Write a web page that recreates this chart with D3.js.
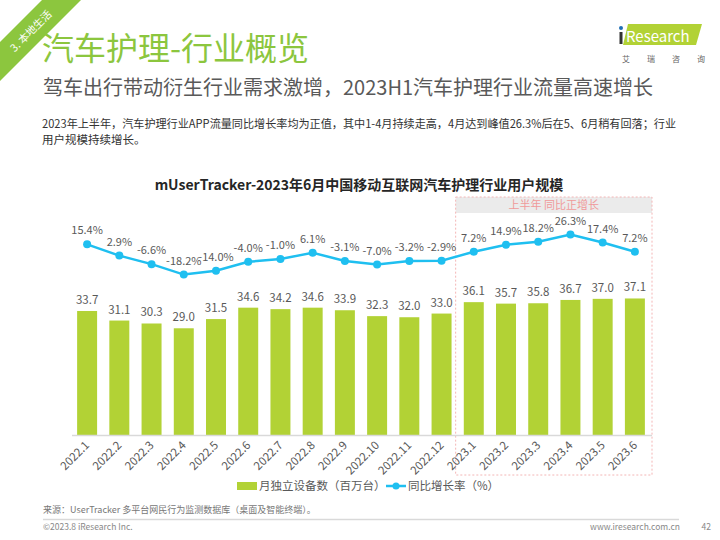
<!DOCTYPE html>
<html><head><meta charset="utf-8">
<script src="https://cdn.jsdelivr.net/npm/d3@7"></script>
<style>
html,body{margin:0;padding:0;background:#fff;}
text{font-family:"Noto Sans CJK SC","Noto Sans",sans-serif;}
</style></head>
<body><svg id="c" width="720" height="540"></svg>
<script>
const categories = ["2022.1","2022.2","2022.3","2022.4","2022.5","2022.6","2022.7","2022.8","2022.9","2022.10","2022.11","2022.12","2023.1","2023.2","2023.3","2023.4","2023.5","2023.6"];
const users = [33.7,31.1,30.3,29.0,31.5,34.6,34.2,34.6,33.9,32.3,32.0,33.0,36.1,35.7,35.8,36.7,37.0,37.1];
const growth = [15.4,2.9,-6.6,-18.2,-14.0,-4.0,-1.0,6.1,-3.1,-7.0,-3.2,-2.9,7.2,14.9,18.2,26.3,17.4,7.2];
const highlightCats = ["2023.1","2023.6"];
const legendLabels = ["月独立设备数（百万台）","同比增长率（%）"];

const svg = d3.select("#c");
const gray = "#595959";
const barColor = "#b2d235";
const lineColor = "#1fbff0";

// corner band
svg.append("polygon").attr("points","42,0 81,0 0,81 0,42").attr("fill","#8cc63e");
svg.append("text").attr("transform","translate(31,31) rotate(-45)").attr("text-anchor","middle")
  .attr("dy","0.35em").attr("font-size",10.5).attr("fill","#fff").text("3. 本地生活");

// titles
svg.append("text").attr("x",42).attr("y",60).attr("font-size",32).attr("fill","#8cc63e").text("汽车护理-行业概览");
svg.append("text").attr("x",43).attr("y",95).attr("font-size",20).attr("fill",gray)
  .text("驾车出行带动衍生行业需求激增，2023H1汽车护理行业流量高速增长");
svg.append("text").attr("x",42).attr("y",128).attr("font-size",11.5).attr("fill","#333")
  .attr("textLength",634).attr("lengthAdjust","spacingAndGlyphs")
  .text("2023年上半年，汽车护理行业APP流量同比增长率均为正值，其中1-4月持续走高，4月达到峰值26.3%后在5、6月稍有回落；行业");
svg.append("text").attr("x",42).attr("y",144).attr("font-size",11.5).attr("fill","#333").text("用户规模持续增长。");

// logo
svg.append("polygon").attr("points","628,24 702,24 696,45 623,45").attr("fill","#b2d235");
svg.append("circle").attr("cx",621).attr("cy",28).attr("r",2).attr("fill","#1f6fb5");
svg.append("rect").attr("x",619.5).attr("y",32).attr("width",3).attr("height",12).attr("fill","#333");
svg.append("text").attr("x",626).attr("y",41.5).attr("font-size",15).attr("fill","#fff").attr("font-family","Liberation Sans").text("Research");
["艾","瑞","咨","询"].forEach((ch,i)=>svg.append("text").attr("x",622+i*25).attr("y",62).attr("font-size",8).attr("fill","#666").text(ch));

// chart title
svg.append("text").attr("x",359).attr("y",190).attr("text-anchor","middle").attr("font-size",14)
  .attr("font-weight","bold").attr("fill","#262626").text("mUserTracker-2023年6月中国移动互联网汽车护理行业用户规模");

// scales
const x = d3.scaleBand().domain(categories).range([71,651]).paddingInner(0.38).paddingOuter(0.19);
const yBar = d3.scaleLinear().domain([0,50]).range([435,251]);
const yLine = d3.scaleLinear().domain([-20,30]).range([276.2,231.2]);

// highlight box
const hx0 = x(highlightCats[0]) - x.step()*0.19 - 2;
const hx1 = x(highlightCats[1]) + x.bandwidth() + x.step()*0.19 + 1;
svg.append("rect").attr("x",hx0).attr("y",197).attr("width",hx1-hx0).attr("height",16).attr("fill","#ebebeb");
svg.append("rect").attr("x",hx0).attr("y",197).attr("width",hx1-hx0).attr("height",278)
  .attr("fill","none").attr("stroke","#f4b6b6").attr("stroke-width",1).attr("stroke-dasharray","2,2");
svg.append("text").attr("x",(hx0+hx1)/2).attr("y",209).attr("text-anchor","middle").attr("font-size",11)
  .attr("fill","#f09a9a").text("上半年 同比正增长");

// bars
svg.selectAll(".bar").data(users).join("rect").attr("class","bar")
  .attr("x",(d,i)=>x(categories[i])).attr("width",x.bandwidth())
  .attr("y",d=>yBar(d)).attr("height",d=>yBar(0)-yBar(d)).attr("fill",barColor);
svg.selectAll(".blab").data(users).join("text").attr("class","blab")
  .attr("x",(d,i)=>x(categories[i])+x.bandwidth()/2).attr("y",d=>yBar(d)-7)
  .attr("text-anchor","middle").attr("font-size",11.5).attr("fill",gray).text(d=>d.toFixed(1));

// axis
const xAxis = d3.axisBottom(x).tickSize(0).tickPadding(0);
const ag = svg.append("g").attr("transform","translate(0,435)").call(xAxis);
ag.select(".domain").attr("stroke","#d9d9d9").attr("stroke-width",1.5).attr("d","M72,0.5H652");
ag.selectAll(".tick text").attr("font-size",11.5).attr("fill",gray)
  .attr("text-anchor","end").attr("dy",0).attr("y",0)
  .attr("transform","translate(3,11) rotate(-45)");

// line
const cx = (d,i)=>x(categories[i])+x.bandwidth()/2;
const line = d3.line().x(cx).y(d=>yLine(d));
svg.append("path").datum(growth).attr("d",line).attr("fill","none").attr("stroke",lineColor).attr("stroke-width",2.5);
svg.selectAll(".pt").data(growth).join("circle").attr("class","pt")
  .attr("cx",cx).attr("cy",d=>yLine(d)).attr("r",4).attr("fill",lineColor);
svg.selectAll(".llab").data(growth).join("text").attr("class","llab")
  .attr("x",cx).attr("y",d=>yLine(d)-10).attr("text-anchor","middle").attr("font-size",11)
  .attr("fill",gray).text(d=>d.toFixed(1)+"%");

// legend
svg.append("rect").attr("x",237).attr("y",482).attr("width",20).attr("height",8).attr("fill",barColor);
svg.append("text").attr("x",259).attr("y",490).attr("font-size",11.5).attr("fill",gray).text(legendLabels[0]);
svg.append("line").attr("x1",386).attr("x2",406).attr("y1",486).attr("y2",486).attr("stroke",lineColor).attr("stroke-width",2.5);
svg.append("circle").attr("cx",396).attr("cy",486).attr("r",3.5).attr("fill",lineColor);
svg.append("text").attr("x",408).attr("y",490).attr("font-size",11.5).attr("fill",gray).text(legendLabels[1]);

// footer
svg.append("text").attr("x",43).attr("y",513).attr("font-size",9).attr("fill","#777")
  .text("来源：UserTracker 多平台网民行为监测数据库（桌面及智能终端）。");
svg.append("line").attr("x1",43).attr("x2",679).attr("y1",519.5).attr("y2",519.5).attr("stroke","#d9d9d9").attr("stroke-width",1.5);
svg.append("text").attr("x",43).attr("y",530).attr("font-size",8.5).attr("fill","#888").text("©2023.8 iResearch Inc.");
svg.append("text").attr("x",680).attr("y",530).attr("text-anchor","end").attr("font-size",8.5).attr("fill","#888").text("www.iresearch.com.cn");
svg.append("text").attr("x",711).attr("y",530).attr("text-anchor","end").attr("font-size",8.5).attr("fill","#888").text("42");
</script></body></html>
